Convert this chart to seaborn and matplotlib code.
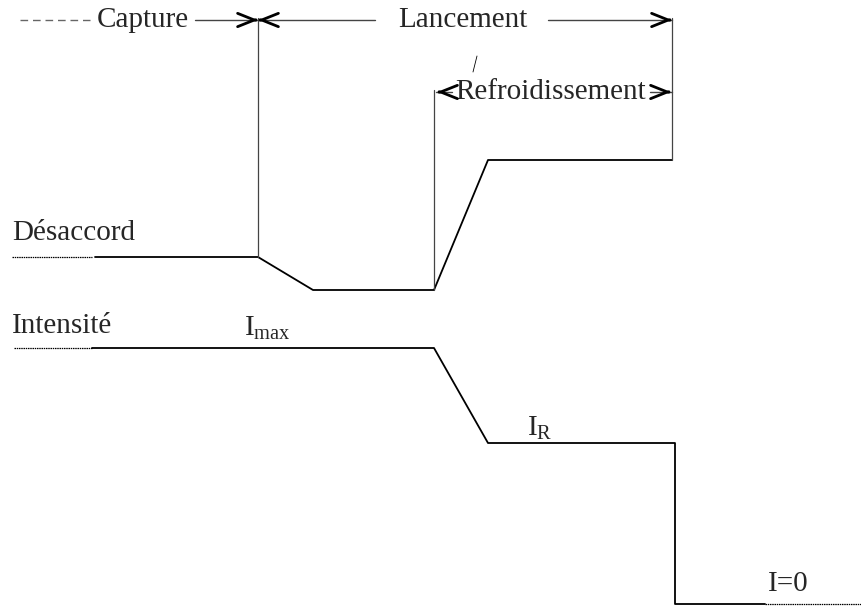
import seaborn as sns
import matplotlib.pyplot as plt
import pandas as pd

# timing diagram, coordinates in picture units (x to the right, y downwards)
detuning_t = [95, 258, 313, 434, 488, 672]
detuning_v = [257, 257, 290, 290, 160, 160]
intensity_t = [92, 434, 488, 675, 675, 765]
intensity_v = [348, 348, 443, 443, 604, 604]
marker_t = [258, 434, 672]
marker_top = [18, 90, 18]
marker_bottom = [257, 290, 160]

SERIF = ['Liberation Serif', 'DejaVu Serif']


def build_frame():
    det = pd.DataFrame({'t': detuning_t, 'v': detuning_v, 'trace': 'Désaccord'})
    ints = pd.DataFrame({'t': intensity_t, 'v': intensity_v, 'trace': 'Intensité'})
    return pd.concat([det, ints], ignore_index=True)


def draw_traces(ax, df):
    for name, grp in df.groupby('trace'):
        sns.lineplot(x='t', y='v', data=grp, ax=ax, color='black', lw=1.3,
                     sort=False, estimator=None, legend=False)
    # dotted leads
    ax.plot([12, 92], [detuning_v[0]] * 2, color='black', lw=0.9, ls=(0, (1.2, 0.6)))
    ax.plot([14, 92], [intensity_v[0]] * 2, color='black', lw=0.9, ls=(0, (1.2, 0.6)))
    ax.plot([765, 862], [intensity_v[-1]] * 2, color='black', lw=0.9, ls=(0, (1.2, 0.6)))
    for t, top, bot in zip(marker_t, marker_top, marker_bottom):
        ax.plot([t, t], [top, bot], color='#444444', lw=0.9)


def head(ax, x, y, direction):
    # open chevron arrow head, drawn bold
    ax.annotate('', xy=(x, y), xytext=(x - 2 * direction, y),
                arrowprops=dict(arrowstyle='->,head_length=0.75,head_width=0.3',
                                color='black', lw=2.0, mutation_scale=16,
                                shrinkA=0, shrinkB=0, joinstyle='miter'))


def draw_labels(ax):
    fs = 21
    ax.text(12, 233, 'Désaccord', fontsize=fs, family=SERIF, va='center')
    ax.text(12, 326, 'Intensité', fontsize=fs, family=SERIF, va='center')
    ax.text(244, 328, r'I$_{\mathrm{max}}$', fontsize=fs, family=SERIF, va='center')
    ax.text(527, 428, r'I$_{\mathrm{R}}$', fontsize=fs, family=SERIF, va='center')
    ax.text(768, 584, 'I=0', fontsize=fs, family=SERIF, va='center')

    # top annotations
    ax.plot([20, 90], [20, 20], color='#666666', lw=1.0, ls=(0, (5.5, 3.5)))
    ax.text(97, 20, 'Capture', fontsize=fs, family=SERIF, va='center')
    ax.text(398, 20, 'Lancement', fontsize=fs, family=SERIF, va='center')
    ax.text(455, 92, 'Refroidissement', fontsize=fs, family=SERIF, va='center')
    ax.plot([473, 477], [72, 56], color='black', lw=0.6)

    for x0, x1, y in [(195, 258, 20), (375, 258, 20), (548, 672, 20)]:
        ax.plot([x0, x1], [y, y], color='#444444', lw=1.0)
        head(ax, x1, y, 1 if x1 > x0 else -1)
    ax.plot([436, 452], [92, 92], color='#444444', lw=1.0)
    ax.plot([650, 672], [92, 92], color='#444444', lw=1.0)
    head(ax, 437, 92, -1)
    head(ax, 671, 92, 1)


def main():
    sns.set_style('white')
    plt.rcParams['mathtext.fontset'] = 'custom'
    plt.rcParams['mathtext.rm'] = 'Liberation Serif'
    fig = plt.figure(figsize=(8.62, 6.07), dpi=100)
    ax = fig.add_axes([0, 0, 1, 1])
    df = build_frame()
    draw_traces(ax, df)
    draw_labels(ax)
    ax.set_xlim(0, 862)
    ax.set_ylim(607, 0)
    ax.set_axis_off()
    plt.savefig('out.png', dpi=100)


main()
